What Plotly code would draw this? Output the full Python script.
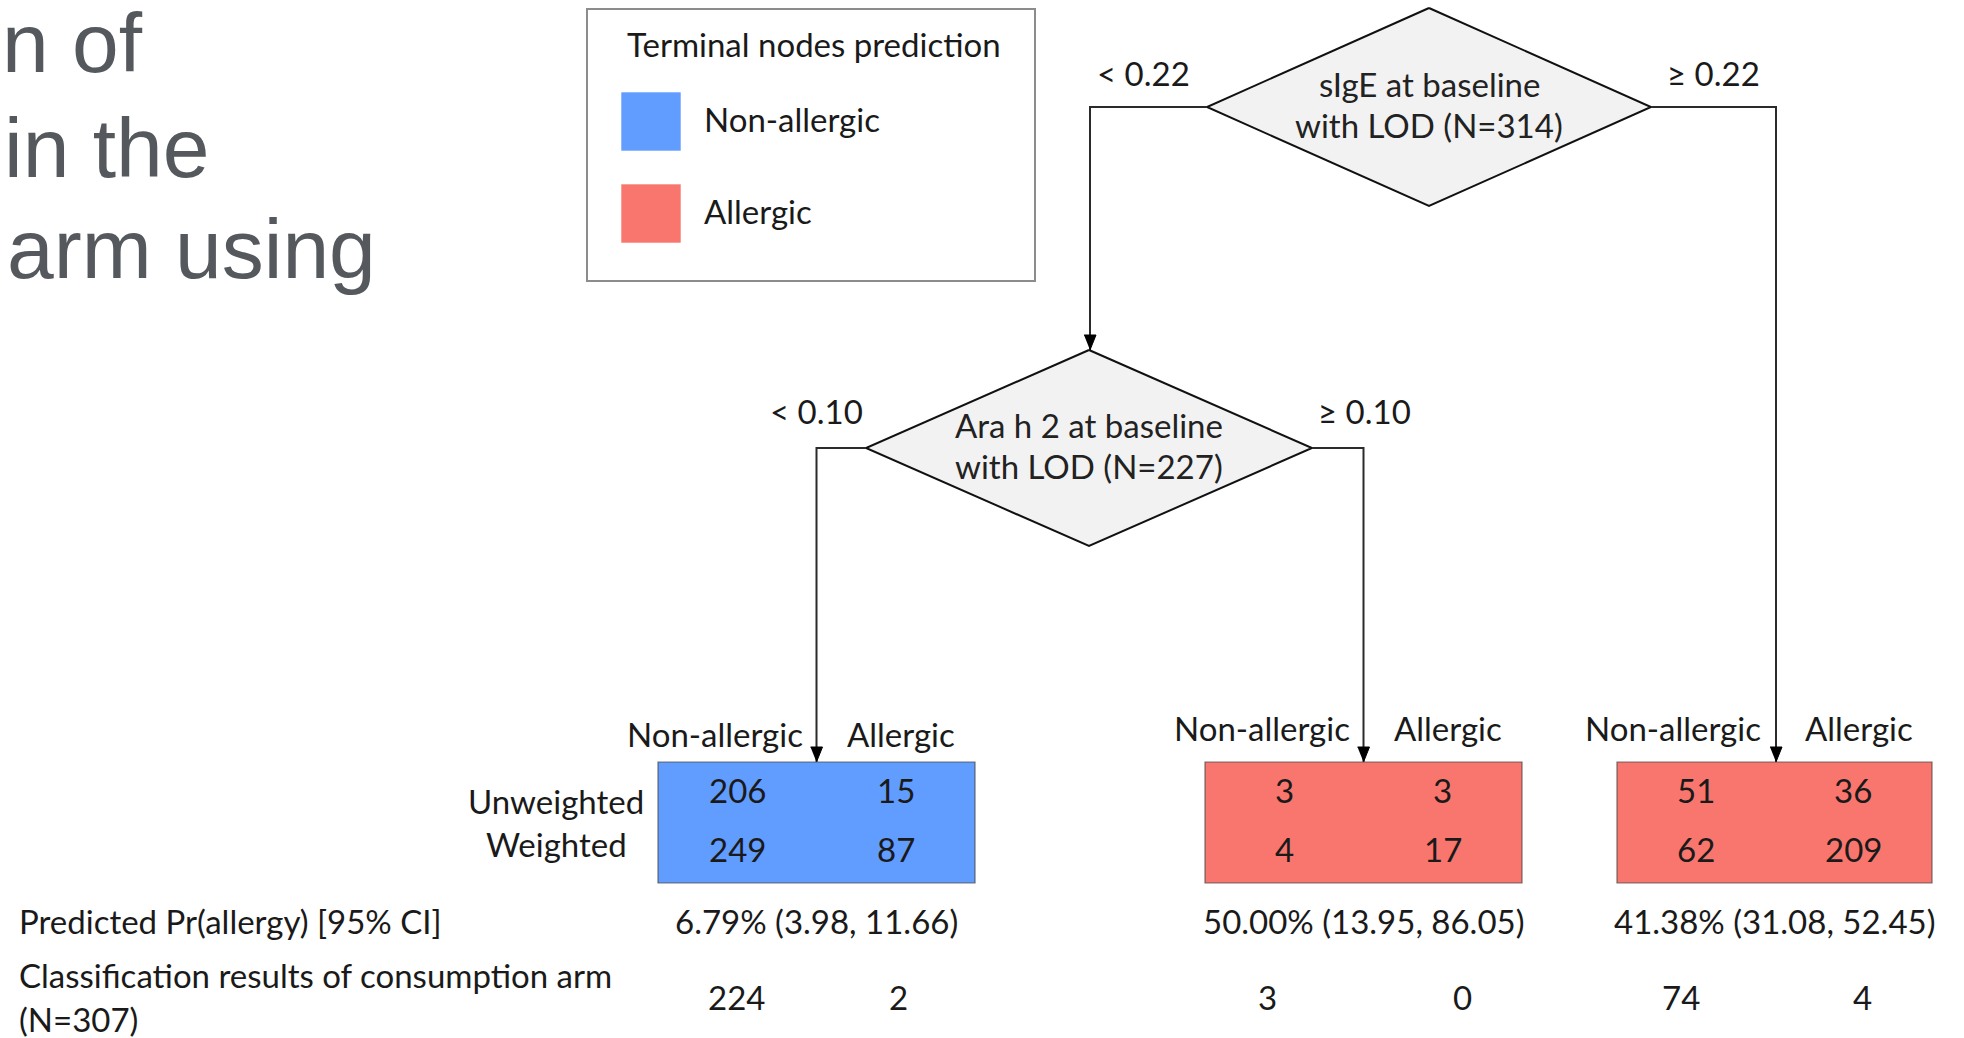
import plotly.graph_objects as go

# ---- tree content -------------------------------------------------------
split_nodes = ["sIgE at baseline<br>with LOD (N=314)",
               "Ara h 2 at baseline<br>with LOD (N=227)"]
split_rules = [("< 0.22", "≥ 0.22"), ("< 0.10", "≥ 0.10")]

col_labels = ["Non-allergic", "Allergic"]
row_labels = ["Unweighted", "Weighted"]

# terminal nodes, left to right
unweighted = [[206, 15], [3, 3], [51, 36]]
weighted = [[249, 87], [4, 17], [62, 209]]
node_pred = ["Non-allergic", "Allergic", "Allergic"]
pred_pr = ["6.79% (3.98, 11.66)", "50.00% (13.95, 86.05)", "41.38% (31.08, 52.45)"]
consumption = [[224, 2], [3, 0], [74, 4]]

legend_title = "Terminal nodes prediction"
pred_row_label = "Predicted Pr(allergy) [95% CI]"
class_row_label = ["Classification results of consumption arm", "(N=307)"]
title_fragments = ["n of", "in the", "arm using"]

# ---- styling / geometry ---------------------------------------------------
W, H = 1964, 1038
COLORS = {"Non-allergic": "#619CFF", "Allergic": "#F8766D"}
FONT = "Lato"
FS = 33
INK = "#1a1a1a"
LINE = "#2b2b2b"

# baseline offset (fraction of font size) from text box centre
BASE_OFF = {"Lato": 0.387, "Liberation Sans": 0.3465}

diamonds = [dict(cx=1429, cy=107, hw=222, hh=99),
            dict(cx=1089, cy=448, hw=223, hh=98)]
box_x = [(658, 975), (1205, 1522), (1617, 1932)]
box_y = (762, 883)
header_base = [747, 741, 741]
num_base = [803, 862]
class_x = [(736, 898), (1267, 1462), (1681, 1862)]

fig = go.Figure()
shapes, annos = [], []


def text(x, base, s, size=FS, anchor="center", font=FONT, color=INK):
    annos.append(dict(x=x, y=base - BASE_OFF[font] * size, xref="x", yref="y",
                      text=s, showarrow=False, xanchor=anchor, yanchor="middle",
                      font=dict(family=font, size=size, color=color)))


def poly(pts, **kw):
    d = "M " + " L ".join(f"{px},{py}" for px, py in pts)
    shapes.append(dict(type="path", path=d, xref="x", yref="y", **kw))


def arrow(pts):
    poly(pts, line=dict(color=LINE, width=2))
    tx, ty = pts[-1]
    poly([(tx - 6, ty - 15), (tx + 6, ty - 15), (tx, ty)],
         fillcolor="black", line=dict(color="black", width=1))


# split diamonds
for d, lbl in zip(diamonds, split_nodes):
    cx, cy, hw, hh = d["cx"], d["cy"], d["hw"], d["hh"]
    poly([(cx, cy - hh), (cx + hw, cy), (cx, cy + hh), (cx - hw, cy), (cx, cy - hh)],
         fillcolor="#f2f2f2", line=dict(color="#111111", width=2))
    l1, l2 = lbl.split("<br>")
    text(cx, cy - 10, l1, color="#222222")
    text(cx, cy + 31, l2, color="#222222")

d0, d1 = diamonds
box_cx = [(a + b) / 2 for a, b in box_x]

# connectors
arrow([(d0["cx"] - d0["hw"], d0["cy"]), (1090, d0["cy"]), (1090, d1["cy"] - d1["hh"])])
arrow([(d0["cx"] + d0["hw"], d0["cy"]), (1776, d0["cy"]), (1776, box_y[0])])
arrow([(d1["cx"] - d1["hw"], d1["cy"]), (box_cx[0], d1["cy"]), (box_cx[0], box_y[0])])
arrow([(d1["cx"] + d1["hw"], d1["cy"]), (box_cx[1], d1["cy"]), (box_cx[1], box_y[0])])

# split rules
text(1143, 86, split_rules[0][0])
text(1713, 86, split_rules[0][1])
text(816, 424, split_rules[1][0])
text(1364, 424, split_rules[1][1])

# terminal nodes
for i, (x0, x1) in enumerate(box_x):
    shapes.append(dict(type="rect", x0=x0, x1=x1, y0=box_y[0], y1=box_y[1],
                       xref="x", yref="y", fillcolor=COLORS[node_pred[i]],
                       line=dict(color="rgba(70,70,70,0.75)", width=1.2)))
    cx = box_cx[i]
    q = (x1 - x0) / 4
    text(cx - 12, header_base[i], col_labels[0], anchor="right")
    text(cx + 28, header_base[i], col_labels[1], anchor="left")
    for j in range(2):
        text(x0 + q * (1 + 2 * j), num_base[0], str(unweighted[i][j]))
        text(x0 + q * (1 + 2 * j), num_base[1], str(weighted[i][j]))
    text(cx, 934, pred_pr[i])
    for j in range(2):
        text(class_x[i][j], 1010, str(consumption[i][j]))

text(556, 814, row_labels[0])
text(556, 857, row_labels[1])
text(17, 934, pred_row_label, anchor="left")
text(17, 988, class_row_label[0], anchor="left")
text(17, 1032, class_row_label[1], anchor="left")

# legend
shapes.append(dict(type="rect", x0=587, x1=1035, y0=9, y1=281, xref="x", yref="y",
                   line=dict(color="#8c8c8c", width=2), fillcolor="white", layer="below"))
text(625, 57, legend_title, anchor="left")
for k, (name, y0) in enumerate(zip(["Non-allergic", "Allergic"], [92, 184])):
    shapes.append(dict(type="rect", x0=621, x1=681, y0=y0, y1=y0 + 59, xref="x", yref="y",
                       fillcolor=COLORS[name], line=dict(color="rgba(255,255,255,0.6)", width=1)))
    text(702, y0 + 40, name, anchor="left")

# title fragment on the left
for s, xb, base in zip(title_fragments, [0, 2, 5], [72, 177, 278]):
    text(xb, base, s, size=84, anchor="left", font="Liberation Sans", color="#55595d")

fig.update_layout(
    width=W, height=H, margin=dict(l=0, r=0, t=0, b=0),
    paper_bgcolor="white", plot_bgcolor="white",
    xaxis=dict(range=[0, W], visible=False, fixedrange=True),
    yaxis=dict(range=[H, 0], visible=False, fixedrange=True),
    shapes=shapes, annotations=annos, showlegend=False,
)

fig.write_html("out.html")
